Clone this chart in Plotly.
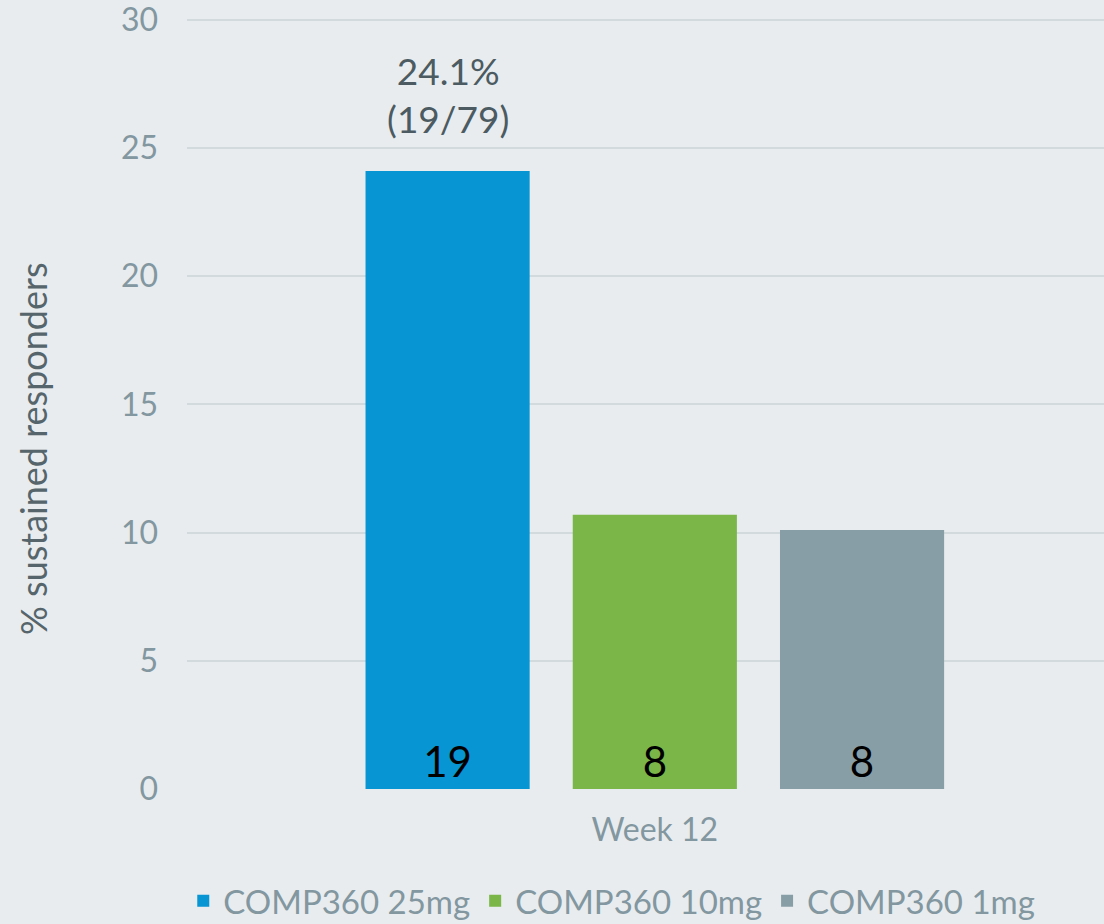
import plotly.graph_objects as go

categories = ["Week 12"]
series_names = ["COMP360 25mg", "COMP360 10mg", "COMP360 1mg"]
series_values = [[24.1], [10.7], [10.1]]
series_counts = [["19"], ["8"], ["8"]]
series_colors = ["#0795d3", "#7ab648", "#889ea6"]
top_label = "24.1%<br>(19/79)"
y_title = "% sustained responders"
y_ticks = [0, 5, 10, 15, 20, 25, 30]

FONT = "Lato"
fig = go.Figure()
for name, vals, cnt, col in zip(series_names, series_values, series_counts, series_colors):
    fig.add_trace(go.Bar(
        x=categories, y=vals, name=name, marker_color=col, marker_line_width=0,
        text=cnt, textposition="inside", insidetextanchor="start",
        textfont=dict(size=42, color="#000000", family=FONT),
        textangle=0, hoverinfo="skip",
    ))

fig.add_annotation(
    x=categories[0], y=series_values[0][0], xref="x", yref="y",
    text=top_label, showarrow=False, yanchor="bottom", yshift=28, xshift=-207,
    font=dict(size=37, color="#4b5b61", family=FONT), align="center",
)
fig.add_annotation(
    x=-0.168, y=0.436, xref="paper", yref="paper", text=y_title, textangle=-90,
    showarrow=False, xanchor="center", yanchor="middle",
    font=dict(size=36, color="#55656b", family=FONT),
)

fig.update_layout(
    width=1104, height=924,
    margin=dict(l=187, r=0, t=7, b=135),
    paper_bgcolor="#e8ecef", plot_bgcolor="#e8ecef",
    barmode="group", bargap=0.2, bargroupgap=0.208,
    font=dict(family=FONT, color="#82979f", size=32),
    showlegend=True,
    legend=dict(orientation="h", x=0.166, xref="container", xanchor="left",
                y=0.025, yref="container", yanchor="middle",
                font=dict(size=33, color="#82979f"), itemwidth=30, tracegroupgap=0,
                bgcolor="rgba(0,0,0,0)"),
    uniformtext=dict(minsize=8, mode="show"),
)
fig.update_xaxes(range=[-0.602, 0.578], showgrid=False, zeroline=False, showline=False,
                 ticks="", tickfont=dict(size=32, color="#82979f"), ticklabelstandoff=19)
fig.update_yaxes(range=[0, 30.5], tickvals=y_ticks, showgrid=True, gridcolor="#d3dadd", gridwidth=2,
                 zeroline=False, showline=False, ticks="", ticklabelstandoff=28,
                 ticklabeloverflow="allow",
                 tickfont=dict(size=32, color="#82979f"), automargin=False)

fig.write_html("out.html", config={"displayModeBar": False},
               post_script="document.body.style.margin='0';document.body.style.overflow='hidden';")
